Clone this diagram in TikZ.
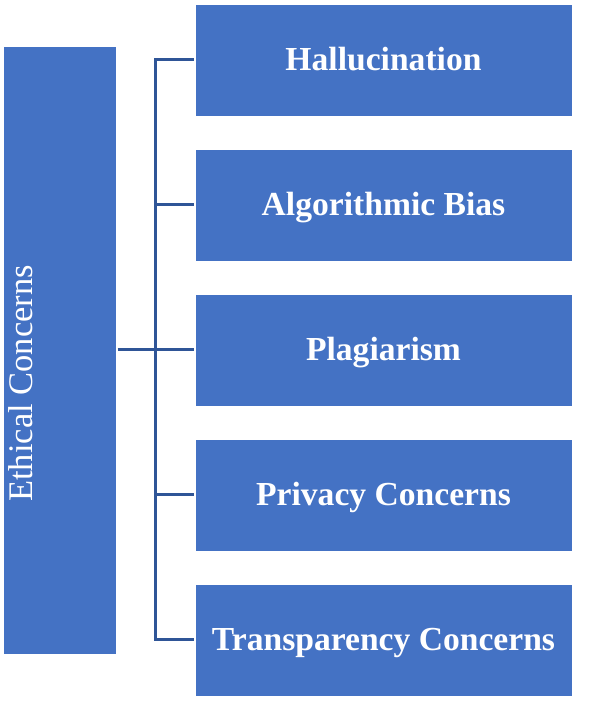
\documentclass[tikz,border=0pt]{standalone}
\usepackage{fontspec}
\setmainfont{Liberation Serif}
\definecolor{boxblue}{HTML}{4472C4}
\definecolor{lineblue}{HTML}{2F5597}
\begin{document}
\begin{tikzpicture}[x=1pt,y=1pt,
  item/.style={fill=boxblue, draw=white, line width=0.6pt, minimum width=377pt, minimum height=112pt,
    inner sep=0pt, outer sep=1.5pt, text=white, text height=21.5pt, text depth=0pt,
    font=\fontsize{33.6}{40}\selectfont\bfseries},
  bigbox/.style={fill=boxblue, draw=white, line width=0.6pt, minimum width=113pt, minimum height=608pt, inner sep=0pt, outer sep=1.5pt},
  conn/.style={draw=lineblue, line width=3pt}]
\useasboundingbox (0,0) rectangle (592,712);
\node[bigbox] (L) at (59.5,362) {};
\node[rotate=90, anchor=base, text=white, font=\fontsize{34.5}{40}\selectfont, inner sep=0pt] (Lt) at (32,328.5) {Ethical Concerns};
\node[item] (b1) at (383.5,652) {Hallucination};
\node[item] (b2) at (383.5,507) {Algorithmic Bias};
\node[item] (b3) at (383.5,362) {Plagiarism};
\node[item] (b4) at (383.5,217) {Privacy Concerns};
\node[item] (b5) at (383.5,72) {Transparency Concerns};
\coordinate (bus) at (155.5,362);
\draw[conn] (L.east) -- (bus);
\draw[conn] (b1.west) -| (bus |- b5.west) -- (b5.west);
\draw[conn] (bus |- b2.west) -- (b2.west);
\draw[conn] (bus) -- (b3.west);
\draw[conn] (bus |- b4.west) -- (b4.west);
\end{tikzpicture}
\end{document}
